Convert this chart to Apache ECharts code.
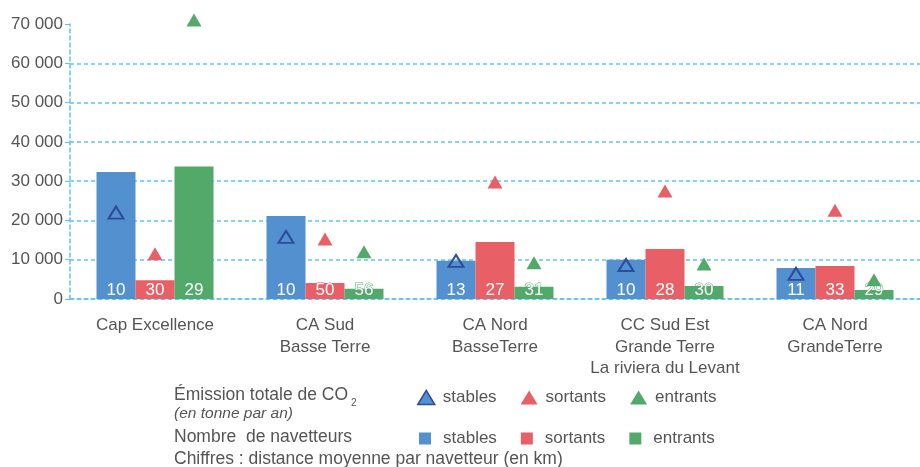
<!DOCTYPE html>
<html>
<head>
    <meta charset="utf-8">
    <title>Navetteurs et CO2</title>
    <script src="https://cdn.jsdelivr.net/npm/echarts@6/dist/echarts.min.js"></script>
    <style>
        html, body { margin: 0; padding: 0; background: #fff; }
        #main { width: 920px; height: 467px; }
    </style>
</head>
<body>
<div id="main"></div>
<script>
    // territoires
    var categories = ['Cap Excellence', 'CA Sud\nBasse Terre', 'CA Nord\nBasseTerre',
        'CC Sud Est\nGrande Terre\nLa riviera du Levant', 'CA Nord\nGrandeTerre'];

    // nombre de navetteurs (barres)
    var navStables = [32300, 21100, 9750, 10000, 7900];
    var navSortants = [4800, 4100, 14500, 12700, 8400];
    var navEntrants = [33700, 2600, 3100, 3300, 2300];

    // distance moyenne par navetteur (km) -> chiffres dans les barres
    var distStables = [10, 10, 13, 10, 11];
    var distSortants = [30, 50, 27, 28, 33];
    var distEntrants = [29, 56, 31, 30, 29];

    // emission totale de CO2 (triangles)
    var co2Stables = [22000, 15800, 9700, 8650, 6400];
    var co2Sortants = [11500, 15300, 29800, 27500, 22600];
    var co2Entrants = [71000, 12000, 9200, 8900, 4900];

    var blue = '#5290cf', red = '#e95f66', green = '#52a96a', darkBlue = '#2e4c9e';
    var gridBlue = '#5cc8f2';
    var font = 'Liberation Sans, Arial, sans-serif';
    var txt = '#555';

    var myChart = echarts.init(document.getElementById('main'));

    function barSerie(name, values, dist, color) {
        return {
            name: 'nav_' + name,
            type: 'bar',
            data: values,
            barWidth: 39,
            barGap: '0%',
            itemStyle: { color: color },
            label: {
                show: true,
                position: 'insideBottom',
                distance: 0,
                color: '#fff',
                fontSize: 17,
                lineHeight: 17,
                fontFamily: font,
                textBorderColor: color,
                textBorderWidth: 1,
                formatter: function (p) { return dist[p.dataIndex]; }
            }
        };
    }

    function triSerie(name, values, offset, style, size) {
        style.opacity = 1;
        return {
            name: 'co2_' + name,
            type: 'scatter',
            data: values,
            symbol: 'triangle',
            symbolSize: size,
            symbolOffset: [offset, 0],
            clip: false,
            z: 5,
            itemStyle: style
        };
    }

    var option = {
        animation: false,
        textStyle: { fontFamily: font },
        grid: { left: 70, right: -10, top: 24, bottom: 168 },
        xAxis: {
            type: 'category',
            data: categories,
            axisLine: { lineStyle: { color: gridBlue, type: [4, 3], width: 1.5 } },
            axisTick: { length: 5, lineStyle: { color: gridBlue } },
            axisLabel: { color: txt, fontSize: 17, lineHeight: 21.5, margin: 16, fontFamily: font, interval: 0 }
        },
        yAxis: {
            type: 'value',
            min: 0,
            max: 70000,
            interval: 10000,
            axisLine: { show: true, lineStyle: { color: gridBlue, type: [4, 3], width: 1.5 } },
            axisTick: { show: true, length: 5, lineStyle: { color: gridBlue } },
            splitLine: { show: true, showMaxLine: false, lineStyle: { color: gridBlue, type: [4, 3], width: 1.5 } },
            axisLabel: {
                color: txt, fontSize: 17, margin: 7, fontFamily: font,
                formatter: function (v) { return String(v).replace(/\B(?=(\d{3})+(?!\d))/g, ' '); }
            }
        },
        legend: [{
            // triangles
            left: 417, top: 389, padding: 0,
            itemWidth: 17, itemHeight: 14, itemGap: 24,
            textStyle: { color: txt, fontSize: 17, fontFamily: font, padding: [0, 0, 0, 3] },
            formatter: function (n) { return n.split('_')[1]; },
            selectedMode: false,
            data: [
                { name: 'co2_stables', icon: 'triangle', itemStyle: { color: blue, borderColor: darkBlue, borderWidth: 1.5, opacity: 1 } },
                { name: 'co2_sortants', icon: 'triangle' },
                { name: 'co2_entrants', icon: 'triangle' }
            ]
        }, {
            // carres
            left: 419, top: 430, padding: 0,
            itemWidth: 12, itemHeight: 12, itemGap: 24,
            textStyle: { color: txt, fontSize: 17, fontFamily: font, padding: [0, 0, 0, 7] },
            formatter: function (n) { return n.split('_')[1]; },
            selectedMode: false,
            data: [
                { name: 'nav_stables', icon: 'rect' },
                { name: 'nav_sortants', icon: 'rect' },
                { name: 'nav_entrants', icon: 'rect' }
            ]
        }],
        graphic: [
            { type: 'text', x: 174, y: 395, style: { text: 'Émission totale de CO', fontSize: 17.5, fontFamily: font, fill: txt, verticalAlign: 'middle' } },
            { type: 'text', x: 351, y: 403, style: { text: '2', fontSize: 10, fontFamily: font, fill: txt, verticalAlign: 'middle' } },
            { type: 'text', x: 174, y: 414, style: { text: '(en tonne par an)', fontSize: 15.5, fontStyle: 'italic', fontFamily: font, fill: txt, verticalAlign: 'middle' } },
            { type: 'text', x: 174, y: 437, style: { text: 'Nombre  de navetteurs', fontSize: 17.5, fontFamily: font, fill: txt, verticalAlign: 'middle' } },
            { type: 'text', x: 174, y: 459, style: { text: 'Chiffres : distance moyenne par navetteur (en km)', fontSize: 17.5, fontFamily: font, fill: txt, verticalAlign: 'middle' } }
        ],
        series: [
            barSerie('stables', navStables, distStables, blue),
            barSerie('sortants', navSortants, distSortants, red),
            barSerie('entrants', navEntrants, distEntrants, green),
            triSerie('stables', co2Stables, -39, { color: 'rgba(0,0,0,0)', borderColor: darkBlue, borderWidth: 2 }, [15, 12]),
            triSerie('sortants', co2Sortants, 0, { color: red }, [15, 13]),
            triSerie('entrants', co2Entrants, 39, { color: green }, [15, 13])
        ]
    };
    myChart.setOption(option);
</script>
</body>
</html>
